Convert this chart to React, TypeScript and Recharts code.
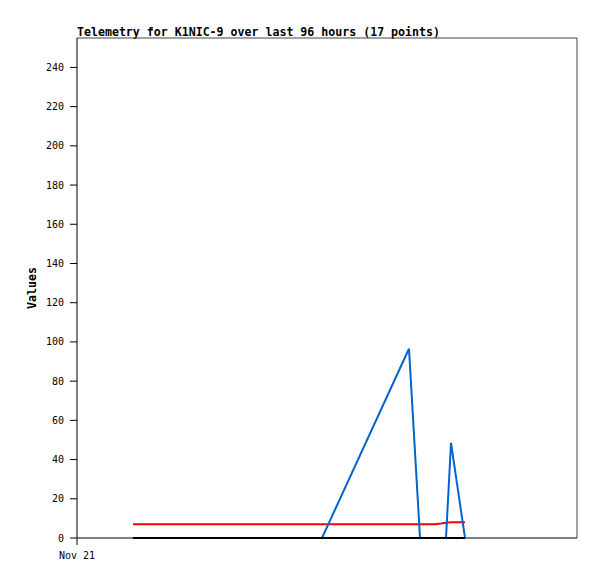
import React from 'react';
import { LineChart, Line, XAxis, YAxis, ReferenceLine } from 'recharts';

const hours = [10.75, 14.6, 18.9, 23.1, 27.3, 31.5, 35.7, 39.8, 43.4, 47.04, 63.74, 65.86, 68.74, 69.9, 70.85, 71.81, 74.5];
const blueValues = [0, 0, 0, 0, 0, 0, 0, 0, 0, 0, 96.5, 0, 0, 0, 0, 48.5, 0];
const redValues = [7, 7, 7, 7, 7, 7, 7, 7, 7, 7, 7, 7, 7, 7.4, 7.8, 8, 8];
const blackValues = [0, 0, 0, 0, 0, 0, 0, 0, 0, 0, 0, 0, 0, 0, 0, 0, 0];
const yTicks = [0, 20, 40, 60, 80, 100, 120, 140, 160, 180, 200, 220, 240];
const xTicks = [0];
const xTickLabels = ['Nov 21'];

const data = hours.map((h, i) => ({ h, blue: blueValues[i], red: redValues[i], black: blackValues[i] }));

const mono = '"DejaVu Sans Mono", "Liberation Mono", monospace';

export default function App() {
  return (
    <div style={{ position: 'absolute', left: 0, top: 0, width: 597, height: 579, background: '#fff' }}>
      <div
        style={{
          position: 'absolute',
          left: 77,
          top: 25,
          fontFamily: mono,
          fontWeight: 'bold',
          fontSize: 11.6,
          color: '#000',
          whiteSpace: 'nowrap',
          lineHeight: '14px',
        }}
      >
        Telemetry for K1NIC-9 over last 96 hours (17 points)
      </div>
      <LineChart width={597} height={579} data={data} margin={{ top: 38, right: 20, bottom: 11, left: 0 }}>
        <XAxis
          dataKey="h"
          type="number"
          domain={[0, 96]}
          ticks={xTicks}
          tickFormatter={(v: number) => xTickLabels[xTicks.indexOf(v)] ?? ''}
          axisLine={{ stroke: '#000' }}
          tickLine={{ stroke: '#000' }}
          tickSize={7}
          tickMargin={7}
          height={30}
          tick={{ fill: '#000', fontFamily: mono, fontSize: 10 }}
          allowDataOverflow
        />
        <YAxis
          type="number"
          domain={[0, 255]}
          ticks={yTicks}
          width={77}
          axisLine={{ stroke: '#000' }}
          tickLine={{ stroke: '#000' }}
          tickSize={7}
          tickMargin={6}
          tick={{ fill: '#000', fontFamily: mono, fontSize: 10 }}
          interval={0}
          label={{
            value: 'Values',
            angle: -90,
            position: 'insideLeft',
            offset: 32,
            style: { fill: '#000', fontFamily: mono, fontWeight: 'bold', fontSize: 11.6, textAnchor: 'middle' },
          }}
        />
        <ReferenceLine y={255} stroke="#444" strokeWidth={1} />
        <ReferenceLine x={96} stroke="#444" strokeWidth={1} />
        <Line type="linear" dataKey="red" stroke="#ff0000" strokeWidth={2} dot={false} isAnimationActive={false} />
        <Line type="linear" dataKey="blue" stroke="#0066cc" strokeWidth={2} dot={false} isAnimationActive={false} />
        <Line type="linear" dataKey="black" stroke="#000000" strokeWidth={2} dot={false} isAnimationActive={false} />
      </LineChart>
    </div>
  );
}
